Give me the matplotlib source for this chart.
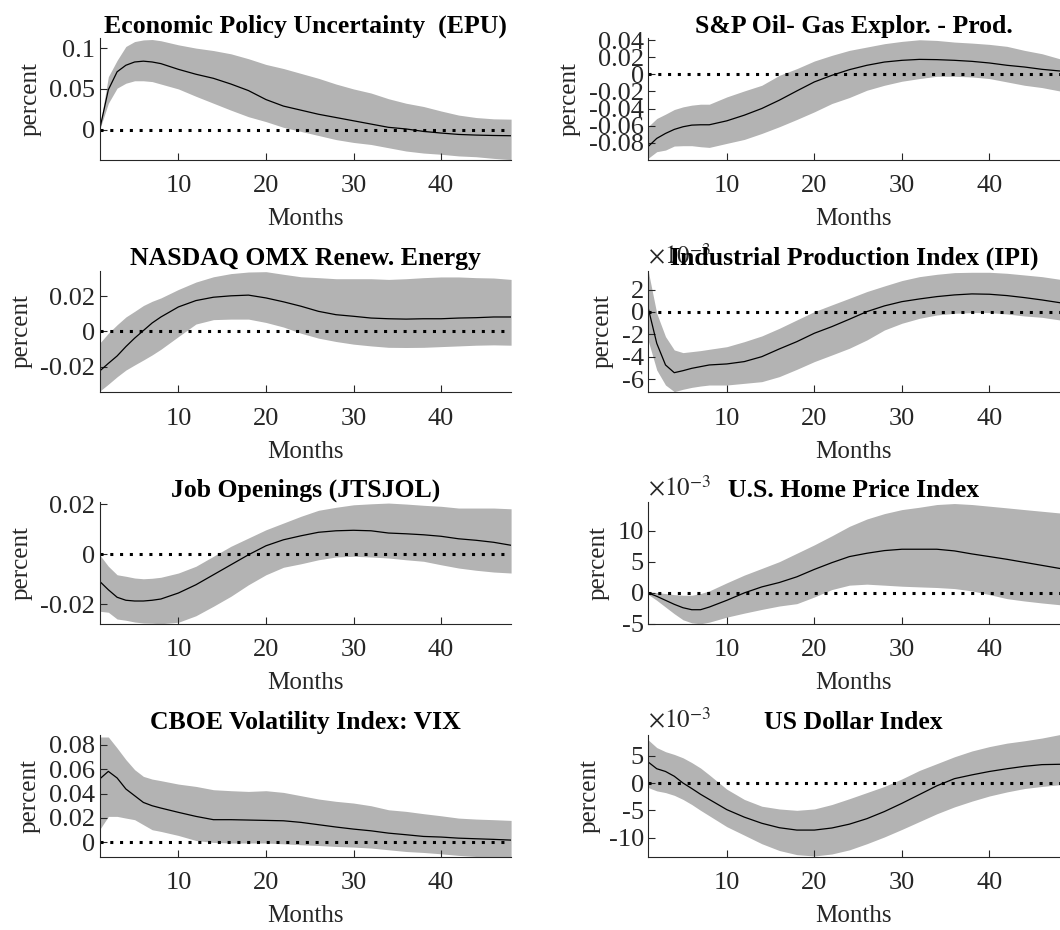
import matplotlib
matplotlib.use('Agg')
import matplotlib.pyplot as plt
import numpy as np

plt.rcParams['font.family'] = ['Liberation Serif', 'DejaVu Serif']
plt.rcParams['mathtext.fontset'] = 'stix'
plt.rcParams['axes.unicode_minus'] = False

#-------------------------------------------------------------------------------
# data (median response and band edges)
#-------------------------------------------------------------------------------
months = [1, 2, 3, 4, 5, 6, 7, 8, 10, 12, 14, 16, 18, 20, 22, 24, 26, 28, 30, 32,
          34, 36, 38, 40, 42, 44, 46, 48]

titles = ['Economic Policy Uncertainty  (EPU)', 'S&P Oil- Gas Explor. - Prod.',
          'NASDAQ OMX Renew. Energy', 'Industrial Production Index (IPI)',
          'Job Openings (JTSJOL)', 'U.S. Home Price Index',
          'CBOE Volatility Index: VIX', 'US Dollar Index']

epu_med = [0, 0.049, 0.071, 0.079, 0.083, 0.084, 0.083, 0.081, 0.074, 0.068, 0.063, 0.056, 0.048, 0.037,
           0.029, 0.024, 0.019, 0.015, 0.011, 0.007, 0.003, 0.001, -0.002, -0.004, -0.0057, -0.0065, -0.007, -0.0073]
epu_lo = [0, 0.0325, 0.051, 0.057, 0.060, 0.060, 0.059, 0.056, 0.050, 0.041, 0.0325, 0.024, 0.016, 0.010,
          0.003, -0.002, -0.007, -0.012, -0.0155, -0.018, -0.022, -0.026, -0.0285, -0.030, -0.032, -0.033, -0.035, -0.0366]
epu_hi = [0.002, 0.065, 0.085, 0.102, 0.108, 0.110, 0.1105, 0.109, 0.104, 0.100, 0.097, 0.093, 0.087, 0.080,
          0.075, 0.069, 0.063, 0.056, 0.050, 0.045, 0.038, 0.0325, 0.0285, 0.023, 0.018, 0.015, 0.0134, 0.013]

oil_med = [-0.0845, -0.0748, -0.0690, -0.0643, -0.0612, -0.0593, -0.0589, -0.0589, -0.0543, -0.0477, -0.0399,
           -0.0302, -0.0194, -0.0089, -0.0012, 0.0054, 0.0105, 0.0143, 0.0163, 0.0174, 0.0171, 0.0163, 0.0151,
           0.0132, 0.0105, 0.0085, 0.0058, 0.0039]
oil_lo = [-0.0981, -0.0903, -0.0884, -0.0837, -0.0833, -0.0833, -0.0845, -0.0853, -0.0806, -0.0760, -0.0690,
          -0.0612, -0.0527, -0.0438, -0.0341, -0.0271, -0.0186, -0.0128, -0.0081, -0.0050, -0.0023, -0.0023,
          -0.0031, -0.0050, -0.0089, -0.0128, -0.0155, -0.0194]
oil_hi = [-0.0612, -0.0516, -0.0465, -0.0411, -0.0380, -0.0360, -0.0349, -0.0349, -0.0264, -0.0194, -0.0128,
          -0.0012, 0.0066, 0.0155, 0.0221, 0.0279, 0.0318, 0.0357, 0.0384, 0.0403, 0.0395, 0.0376, 0.0364,
          0.0349, 0.0326, 0.0279, 0.0240, 0.0182]

nasdaq_med = [-0.0225, -0.0181, -0.0139, -0.0086, -0.0038, 0.0005, 0.0048, 0.0082, 0.0139, 0.0175, 0.0194,
              0.0202, 0.0206, 0.0190, 0.0168, 0.0143, 0.0114, 0.0095, 0.0086, 0.0076, 0.0072, 0.0070, 0.0072,
              0.0072, 0.0076, 0.0078, 0.0082, 0.0082]
nasdaq_lo = [-0.0339, -0.0299, -0.0257, -0.0219, -0.0190, -0.0162, -0.0133, -0.0101, -0.0029, 0.0042, 0.0067,
             0.0070, 0.0070, 0.0051, 0.0025, -0.0010, -0.0038, -0.0057, -0.0072, -0.0082, -0.0090, -0.0091,
             -0.0090, -0.0086, -0.0082, -0.0078, -0.0076, -0.0078]
nasdaq_hi = [-0.0067, -0.0010, 0.0038, 0.0082, 0.0114, 0.0147, 0.0171, 0.0190, 0.0238, 0.0280, 0.0310,
             0.0328, 0.0337, 0.0339, 0.0324, 0.0310, 0.0305, 0.0299, 0.0299, 0.0299, 0.0295, 0.0299, 0.0305,
             0.0309, 0.0309, 0.0305, 0.0303, 0.0295]

# IPI, home price and dollar index are in units of 1e-3
ipi_med = [0.42, -2.80, -4.73, -5.42, -5.24, -5.03, -4.88, -4.73, -4.64, -4.43, -3.99, -3.30, -2.65, -1.90,
           -1.31, -0.65, 0.03, 0.54, 0.92, 1.16, 1.37, 1.52, 1.61, 1.58, 1.46, 1.28, 1.07, 0.83]
ipi_lo = [-2.50, -5.18, -6.52, -7.11, -6.90, -6.73, -6.61, -6.52, -6.52, -6.37, -6.22, -5.77, -5.12, -4.43,
          -3.84, -3.24, -2.50, -1.61, -1.01, -0.57, -0.27, -0.12, -0.06, -0.06, -0.18, -0.36, -0.48, -0.71]
ipi_hi = [3.75, -0.12, -2.20, -3.39, -3.63, -3.54, -3.45, -3.33, -3.10, -2.65, -2.14, -1.46, -0.71, 0.03,
          0.63, 1.22, 1.82, 2.32, 2.80, 3.15, 3.36, 3.51, 3.54, 3.54, 3.45, 3.30, 3.15, 2.92]

job_med = [-0.0109, -0.0143, -0.0173, -0.0185, -0.0188, -0.0188, -0.0185, -0.0180, -0.0156, -0.0123, -0.0083,
           -0.0043, -0.0003, 0.0033, 0.0057, 0.0073, 0.0087, 0.0093, 0.0095, 0.0093, 0.0084, 0.0081, 0.0077,
           0.0071, 0.0061, 0.0055, 0.0047, 0.0035]
job_lo = [-0.0229, -0.0233, -0.0260, -0.0265, -0.0272, -0.0276, -0.0277, -0.0279, -0.0273, -0.0247, -0.0209,
          -0.0169, -0.0123, -0.0083, -0.0053, -0.0039, -0.0023, -0.0012, -0.0009, -0.0012, -0.0016, -0.0023,
          -0.0029, -0.0043, -0.0056, -0.0065, -0.0072, -0.0076]
job_hi = [-0.0003, -0.0049, -0.0083, -0.0089, -0.0096, -0.0099, -0.0097, -0.0093, -0.0076, -0.0049, -0.0009,
          0.0031, 0.0064, 0.0097, 0.0124, 0.0151, 0.0175, 0.0187, 0.0197, 0.0201, 0.0204, 0.0200, 0.0195,
          0.0191, 0.0184, 0.0184, 0.0184, 0.0181]

home_med = [-0.05, -0.60, -1.25, -1.90, -2.45, -2.77, -2.77, -2.34, -1.25, -0.05, 0.92, 1.63, 2.55, 3.75,
            4.84, 5.82, 6.36, 6.79, 7.01, 7.01, 7.01, 6.74, 6.25, 5.82, 5.38, 4.89, 4.40, 3.91]
home_lo = [-0.27, -1.25, -2.34, -3.42, -4.40, -4.89, -5.05, -4.78, -3.97, -3.32, -2.72, -2.17, -1.79, -0.71,
           0.49, 1.20, 1.36, 1.20, 1.03, 0.92, 0.82, 0.65, 0.27, -0.33, -0.98, -1.36, -1.68, -1.96]
home_hi = [0.11, 0.0, -0.16, -0.33, -0.43, -0.43, -0.16, 0.27, 1.58, 2.83, 3.91, 5.00, 6.36, 7.72,
           9.18, 10.71, 11.90, 12.77, 13.42, 13.80, 14.24, 14.40, 14.24, 13.97, 13.70, 13.42, 13.15, 12.88]

vix_med = [0.0518, 0.0581, 0.0527, 0.0437, 0.0382, 0.0327, 0.0300, 0.0281, 0.0246, 0.0213, 0.0186, 0.0186,
           0.0183, 0.0180, 0.0177, 0.0164, 0.0145, 0.0126, 0.0109, 0.0095, 0.0076, 0.0063, 0.0049, 0.0044,
           0.0035, 0.0030, 0.0025, 0.0019]
vix_lo = [0.0104, 0.0213, 0.0213, 0.0199, 0.0186, 0.0145, 0.0104, 0.0090, 0.0057, 0.0016, 0.0000, -0.0005,
          -0.0005, -0.0005, -0.0011, -0.0019, -0.0025, -0.0033, -0.0038, -0.0046, -0.0060, -0.0074, -0.0082,
          -0.0093, -0.0106, -0.0115, -0.0115, -0.0115]
vix_hi = [0.0862, 0.0862, 0.0772, 0.0677, 0.0595, 0.0540, 0.0518, 0.0505, 0.0477, 0.0458, 0.0431, 0.0423,
          0.0417, 0.0423, 0.0409, 0.0382, 0.0355, 0.0336, 0.0322, 0.0300, 0.0267, 0.0254, 0.0235, 0.0218,
          0.0199, 0.0191, 0.0186, 0.0180]

usd_med = [3.86, 2.61, 2.11, 1.24, 0.0, -1.0, -2.05, -2.99, -4.85, -6.22, -7.34, -8.15, -8.58, -8.58,
           -8.2, -7.5, -6.5, -5.2, -3.7, -2.1, -0.5, 0.8, 1.49, 2.11, 2.61, 3.05, 3.36, 3.42]
usd_lo = [-0.81, -1.43, -1.74, -2.24, -2.99, -3.92, -4.98, -5.97, -7.96, -9.51, -11.07, -12.31, -13.06, -13.31,
          -12.94, -12.19, -11.07, -9.83, -8.46, -7.03, -5.60, -4.35, -3.30, -2.36, -1.62, -1.00, -0.62, -0.31]
usd_hi = [7.9, 6.47, 5.72, 5.22, 4.60, 3.73, 2.74, 1.49, -1.12, -2.99, -4.23, -4.73, -4.98, -4.73,
          -3.92, -2.86, -1.74, -0.62, 0.75, 2.30, 3.54, 4.79, 5.85, 6.65, 7.28, 7.71, 8.21, 8.83]

yticks = [[0, 0.05, 0.1], [-0.08, -0.06, -0.04, -0.02, 0, 0.02, 0.04], [-0.02, 0, 0.02], [-6, -4, -2, 0, 2],
          [-0.02, 0, 0.02], [-5, 0, 5, 10], [0, 0.02, 0.04, 0.06, 0.08], [-10, -5, 0, 5]]
scaled = [False, False, False, True, False, True, False, True]

#-------------------------------------------------------------------------------
panels = [(epu_med, epu_lo, epu_hi), (oil_med, oil_lo, oil_hi),
          (nasdaq_med, nasdaq_lo, nasdaq_hi), (ipi_med, ipi_lo, ipi_hi),
          (job_med, job_lo, job_hi), (home_med, home_lo, home_hi),
          (vix_med, vix_lo, vix_hi), (usd_med, usd_lo, usd_hi)]

ylims = [(-0.037, 0.112), (-0.100, 0.042), (-0.0345, 0.0345), (-7.17, 3.69),
         (-0.028, 0.0207), (-5.08, 14.6), (-0.0115, 0.088), (-13.4, 8.8)]

W, H = 1060.0, 930.0
lefts = [99.6 / W, 648.0 / W]
width = 411.5 / W
bottoms = [1 - 160.0 / H, 1 - 392.3 / H, 1 - 624.0 / H, 1 - 856.5 / H]
height = 121.7 / H

fs_tick = 19
fs_title = 18.5
fs_lab = 18
grey = '#262626'

fig = plt.figure(figsize=(10.6, 9.3), dpi=100)

for i, (med, lo, hi) in enumerate(panels):
    row, col = divmod(i, 2)
    ax = fig.add_axes([lefts[col], bottoms[row], width, height])
    ax.fill_between(months, lo, hi, color='#b3b3b3', linewidth=0)
    ax.plot(months, med, color='k', lw=0.9)
    ax.axhline(0, color='k', lw=2.2, linestyle=(0, (1, 2.2)), dash_capstyle='butt')
    ax.set_xlim(1, 48)
    ax.set_ylim(*ylims[i])
    ax.set_xticks([10, 20, 30, 40])
    ax.set_yticks(yticks[i])
    ax.set_yticklabels(['%g' % t for t in yticks[i]])
    for s in ['top', 'right']:
        ax.spines[s].set_visible(False)
    for s in ['left', 'bottom']:
        ax.spines[s].set_color(grey)
        ax.spines[s].set_linewidth(0.8)
    ax.tick_params(direction='in', length=5, width=0.8, color=grey, labelcolor=grey,
                   labelsize=fs_tick)
    ax.tick_params(axis='x', pad=11)
    ax.tick_params(axis='y', pad=3)
    ax.set_title(titles[i], fontsize=fs_title, fontweight='bold', pad=4)
    ax.set_xlabel('Months', fontsize=fs_lab, color=grey, labelpad=8)
    ax.set_ylabel('percent', fontsize=fs_lab, color=grey, labelpad=6)
    if scaled[i]:
        ax.text(0.0, 1.01, r'$\times10^{-3}$', transform=ax.transAxes, ha='left', va='bottom',
                fontsize=fs_lab, color=grey)

plt.savefig('out.png', dpi=100)
